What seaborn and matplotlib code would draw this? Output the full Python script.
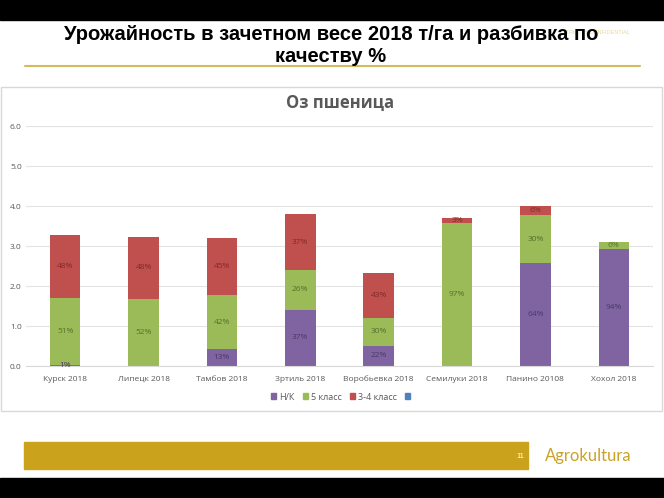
import numpy as np
import matplotlib
matplotlib.use("Agg")
import matplotlib.pyplot as plt
from matplotlib.patches import Rectangle, Patch
import seaborn as sns

# data (t/ha per quality class)
regions = ["Курск 2018", "Липецк 2018", "Тамбов 2018", "Зртиль 2018",
           "Воробьевка 2018", "Семилуки 2018", "Панино 20108", "Хохол 2018"]
nk = [0.03, 0.00, 0.42, 1.41, 0.51, 0.00, 2.57, 2.92]        # Н/К
cls5 = [1.67, 1.68, 1.35, 0.99, 0.70, 3.58, 1.20, 0.19]      # 5 класс
cls34 = [1.57, 1.55, 1.44, 1.40, 1.12, 0.11, 0.24, 0.00]     # 3-4 класс
nk_lbl = ["1%", "", "13%", "37%", "22%", "", "64%", "94%"]
cls5_lbl = ["51%", "52%", "42%", "26%", "30%", "97%", "30%", "6%"]
cls34_lbl = ["48%", "48%", "45%", "37%", "43%", "3%", "6%", ""]
yticks = [0.0, 1.0, 2.0, 3.0, 4.0, 5.0, 6.0]

purple, green, red, blue = "#8064A2", "#9BBB59", "#C0504D", "#4F81BD"
gold = "#CBA21B"

sns.set_style("white")
plt.rcParams["font.family"] = ["Liberation Sans", "DejaVu Sans"]

fig = plt.figure(figsize=(6.64, 4.98), dpi=100)
W, H = 664, 498


def fx(px):
    return px / W


def fy(py):
    return 1 - py / H


# black bands top and bottom
fig.patches.append(Rectangle((0, fy(20)), 1, 20 / H, transform=fig.transFigure, color="black"))
fig.patches.append(Rectangle((0, 0), 1, 20 / H, transform=fig.transFigure, color="black"))

# slide title
fig.text(fx(331), fy(45.5), "Урожайность в зачетном весе 2018 т/га и разбивка по\nкачеству %",
         ha="center", va="center", fontsize=14.5, fontweight="bold", linespacing=1.2,
         family=["Liberation Sans Narrow", "Liberation Sans", "DejaVu Sans"], color="black",
         zorder=3)
fig.text(fx(562), fy(33), "STRICTLY CONFIDENTIAL", fontsize=4, color="#E8DA9E", va="center",
         zorder=2)
fig.add_artist(plt.Line2D([fx(25), fx(640)], [fy(66), fy(66)], color="#D4BC5C", lw=1.5))

# chart frame
fig.patches.append(Rectangle((fx(1), fy(411)), fx(661), (411 - 87) / H,
                             transform=fig.transFigure, fill=False, ec="#D9D9D9", lw=1))
fig.text(fx(340), fy(103), "Оз пшеница", ha="center", va="center", fontsize=12,
         fontweight="bold", color="#595959", family=["Open Sans", "DejaVu Sans"])

ax = fig.add_axes([fx(26), fy(366), fx(653 - 26), (366 - 126) / H])

tot_nk_5 = np.array(nk) + np.array(cls5)
total = tot_nk_5 + np.array(cls34)
bw = 0.39
bar_kw = dict(saturation=1, width=bw, ax=ax, order=regions, linewidth=0)
sns.barplot(x=regions, y=total, color=red, **bar_kw)
sns.barplot(x=regions, y=tot_nk_5, color=green, **bar_kw)
sns.barplot(x=regions, y=nk, color=purple, **bar_kw)

# percent labels in the middle of each segment
lab_kw = dict(ha="center", va="center", fontsize=6, family=["Open Sans", "DejaVu Sans"])
for i in range(len(regions)):
    if nk_lbl[i]:
        ax.text(i, max(nk[i] / 2, 0.02), nk_lbl[i], color="#4A3A66", **lab_kw)
    if cls5_lbl[i]:
        ax.text(i, nk[i] + cls5[i] / 2, cls5_lbl[i], color="#56702A", **lab_kw)
    if cls34_lbl[i]:
        ax.text(i, tot_nk_5[i] + cls34[i] / 2, cls34_lbl[i], color="#7E2B29", **lab_kw)

ax.set_ylim(0, 6)
ax.set_xlim(-0.5, len(regions) - 0.5)
ax.set_yticks(yticks)
ax.set_yticklabels([f"{v:.1f}" for v in yticks])
ax.grid(axis="y", color="#E3E3E3", lw=0.8)
ax.set_axisbelow(True)
for s in ["top", "right", "left"]:
    ax.spines[s].set_visible(False)
ax.spines["bottom"].set_color("#D9D9D9")
ax.tick_params(axis="both", length=0, labelsize=6, labelcolor="#595959")
ax.tick_params(axis="y", pad=3)
ax.tick_params(axis="x", pad=7)
for t in ax.get_xticklabels() + ax.get_yticklabels():
    t.set_family(["Open Sans", "DejaVu Sans"])
ax.set_xlabel("")
ax.set_ylabel("")

handles = [Patch(color=purple), Patch(color=green), Patch(color=red), Patch(color=blue)]
leg = fig.legend(handles, ["Н/К", "5 класс", "3-4 класс", ""], loc="center",
                 bbox_to_anchor=(fx(342), fy(397)), ncol=4, frameon=False,
                 handlelength=0.6, handleheight=0.6, handletextpad=0.3,
                 columnspacing=0.9, prop={"family": ["Open Sans", "DejaVu Sans"], "size": 6.5})
for t in leg.get_texts():
    t.set_color("#595959")

# footer
fig.patches.append(Rectangle((fx(24), fy(469)), fx(528 - 24), (469 - 442) / H,
                             transform=fig.transFigure, color=gold))
fig.text(fx(520), fy(456), "11", color="white", fontsize=5.5, ha="center", va="center")
fig.text(fx(545), fy(456), "Agrokultura", color="#C9A227", fontsize=12, ha="left", va="center",
         family=["Lato", "DejaVu Sans"])

fig.savefig("out.png", dpi=100)
